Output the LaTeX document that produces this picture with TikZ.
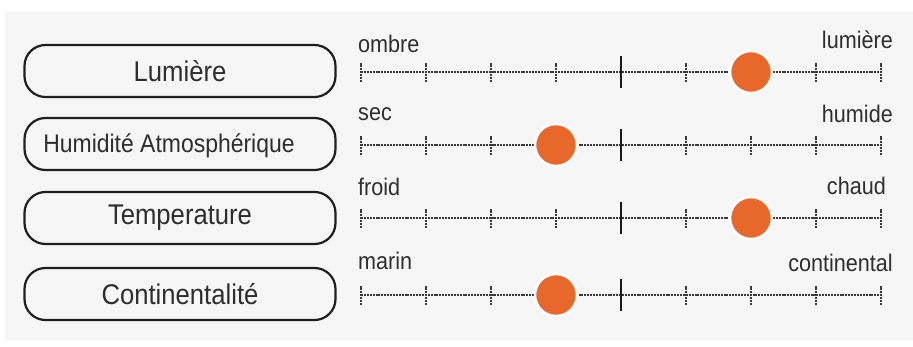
\documentclass[tikz,border=0pt]{standalone}
\usepackage{fontspec}
\setmainfont[FakeStretch=0.9]{Liberation Sans}
\definecolor{bg}{HTML}{F6F6F6}
\definecolor{dotc}{HTML}{E8672A}
\definecolor{txt}{HTML}{2E2E2E}
\definecolor{scl}{HTML}{3A3A3A}
\begin{document}
\begin{tikzpicture}[x=1pt,y=-1pt,
  pill/.style={draw=black!88, line width=2.2pt, rounded corners=21pt,
    minimum width=311pt, minimum height=52pt, text=txt, inner sep=0pt},
  biglab/.style={font=\fontsize{28.5}{30}\selectfont},
  smalllab/.style={font=\fontsize{24}{26}\selectfont, text=txt, inner sep=0pt},
  scaleline/.style={draw=scl, line width=2.2pt, dash pattern=on 2pt off 0.9pt},
  minortick/.style={draw=scl, line width=2.2pt, dash pattern=on 2pt off 0.9pt},
  majortick/.style={draw=black!90, line width=2.6pt},
  dotnode/.style={circle, fill=dotc, draw=white, line width=2.5pt, minimum size=42pt, inner sep=0pt}
]
\useasboundingbox (0,0) rectangle (913,347);
\fill[white] (0,0) rectangle (913,347);
\fill[bg] (5,11) rectangle (913,341);

% boxes
\node[pill, biglab] (b1) at (180,71) {Lumière};
\node[pill] (b2) at (180,144) {};
\node[text=txt, inner sep=0pt, font=\fontsize{25.5}{27}\selectfont] (b2t) at (169,146) {Humidité Atmosphérique};
\node[pill, biglab] (b3) at (180,218) {Temperature};
\node[pill, biglab] (b4) at (180,294) {Continentalité};

% scales
\foreach \r/\y/\ly/\ry/\rx/\dx/\lt/\rt in {1/72/53/49/893/751/ombre/lumière, 2/145/121/123/893/556/sec/humide, 3/218/196/195/886/751/froid/chaud, 4/295/270/272/893/556/marin/continental}{
  \coordinate (s\r) at (361,\y);
  \coordinate (e\r) at (881,\y);
  \draw[scaleline] (s\r) -- (e\r);
  \foreach \k in {0,1,2,3,5,6,7,8}{
    \coordinate (t\r\k) at ({361+65*\k},\y);
    \draw[minortick] ([yshift=-10pt]t\r\k) -- ([yshift=10pt]t\r\k);
  }
  \coordinate (m\r) at (621,\y);
  \draw[majortick] ([yshift=-16pt]m\r) -- ([yshift=16pt]m\r);
  \node[dotnode] (d\r) at (\dx,\y) {};
  \node[smalllab, anchor=base west] (l\r) at (358,\ly) {\lt};
  \node[smalllab, anchor=base east] (r\r) at (\rx,\ry) {\rt};
}
\end{tikzpicture}
\end{document}
